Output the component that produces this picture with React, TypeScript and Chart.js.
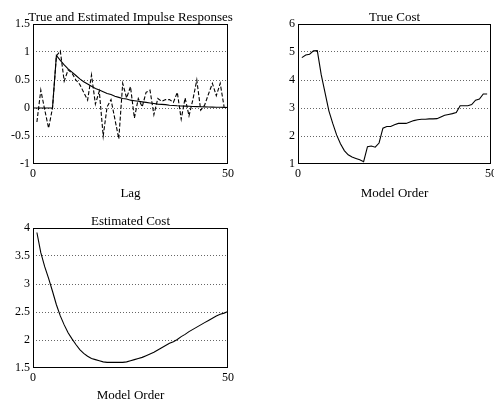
import React, { useEffect, useRef } from "react";
import { Chart, registerables } from "chart.js";

Chart.register(...registerables);

// ---------- data ----------
const trueLags = Array.from({ length: 51 }, (_, i) => i);
const trueImpulse = [
  0, 0, 0, 0, 0, 0, 0.94, 0.85, 0.77, 0.7, 0.64, 0.58, 0.52, 0.47, 0.43, 0.39,
  0.35, 0.32, 0.29, 0.26, 0.24, 0.21, 0.19, 0.17, 0.16, 0.14, 0.13, 0.12, 0.11,
  0.1, 0.09, 0.08, 0.07, 0.065, 0.06, 0.05, 0.045, 0.04, 0.037, 0.033, 0.03,
  0.027, 0.024, 0.022, 0.02, 0.018, 0.016, 0.014, 0.013, 0.012, 0.01,
];

const estLags = Array.from({ length: 49 }, (_, i) => i + 1);
const estImpulse = [
  -0.25, 0.32, -0.03, -0.36, 0.0, 0.93, 1.02, 0.48, 0.68, 0.62, 0.5, 0.42, 0.28,
  0.14, 0.59, 0.07, 0.3, -0.5, 0.02, 0.15, -0.2, -0.55, 0.44, 0.18, 0.38, -0.18,
  0.17, 0.02, 0.28, 0.32, -0.12, 0.17, 0.12, 0.15, 0.15, 0.1, 0.28, -0.2, 0.18,
  -0.14, 0.15, 0.5, -0.04, 0.05, 0.25, 0.44, 0.22, 0.44, 0.02,
];

const trueCostOrders = Array.from({ length: 49 }, (_, i) => i + 1);
const trueCost = [
  4.8, 4.89, 4.92, 5.04, 5.05, 4.2, 3.55, 2.9, 2.45, 2.04, 1.72, 1.48, 1.33,
  1.25, 1.2, 1.15, 1.08, 1.62, 1.64, 1.6, 1.75, 2.28, 2.34, 2.34, 2.4, 2.45,
  2.45, 2.45, 2.5, 2.55, 2.58, 2.6, 2.6, 2.61, 2.61, 2.62, 2.68, 2.74, 2.77,
  2.8, 2.84, 3.08, 3.08, 3.08, 3.12, 3.28, 3.32, 3.5, 3.5,
];

const estCostOrders = Array.from({ length: 50 }, (_, i) => i + 1);
const estCost = [
  3.92, 3.56, 3.31, 3.1, 2.87, 2.63, 2.43, 2.27, 2.13, 2.02, 1.92, 1.83, 1.76,
  1.71, 1.67, 1.65, 1.63, 1.61, 1.6, 1.6, 1.6, 1.6, 1.6, 1.61, 1.63, 1.65,
  1.67, 1.69, 1.72, 1.75, 1.78, 1.82, 1.86, 1.9, 1.94, 1.97, 2.01, 2.06, 2.1,
  2.15, 2.19, 2.23, 2.27, 2.31, 2.35, 2.39, 2.43, 2.46, 2.48, 2.51,
];

const xTicks = [0, 50];
const impulseYTicks = [-1, -0.5, 0, 0.5, 1, 1.5];
const trueCostYTicks = [1, 2, 3, 4, 5, 6];
const estCostYTicks = [1.5, 2, 2.5, 3, 3.5, 4];

const titles = ["True and Estimated Impulse Responses", "True Cost", "Estimated Cost"];
const xLabels = ["Lag", "Model Order", "Model Order"];

// ---------- chart helpers ----------
const FONT = '"Liberation Serif", "Times New Roman", serif';

function pts(xs: number[], ys: number[]) {
  return xs.map((x, i) => ({ x, y: ys[i] }));
}

function framePlugin(title: string, xlabel: string, labelOff: number) {
  return {
    id: "frameText",
    afterDraw(chart: any) {
      const { ctx, chartArea: a } = chart;
      ctx.save();
      ctx.strokeStyle = "#000";
      ctx.lineWidth = 1;
      const l = Math.round(a.left) + 0.5;
      const t = Math.round(a.top) + 0.5;
      const r = Math.round(a.right) - 0.5;
      const b = Math.round(a.bottom) - 0.5;
      ctx.strokeRect(l, t, r - l, b - t);
      ctx.fillStyle = "#000";
      ctx.font = `13px ${FONT}`;
      ctx.textAlign = "center";
      ctx.textBaseline = "alphabetic";
      const cx = (a.left + a.right) / 2;
      ctx.fillText(title, cx, a.top - 3.5);
      ctx.fillText(xlabel, cx, a.bottom + labelOff);
      ctx.restore();
    },
  };
}

function makeConfig(p: {
  datasets: any[];
  yTicks: number[];
  yWidth: number;
  padTop: number;
  padRight: number;
  xHeight: number;
  title: string;
  xlabel: string;
  labelOff: number;
}) {
  const tickFont = { family: FONT, size: 12 };
  const last = p.yTicks.length - 1;
  return {
    type: "line",
    data: { datasets: p.datasets },
    options: {
      animation: false,
      responsive: false,
      devicePixelRatio: 1,
      parsing: true,
      layout: { padding: { top: p.padTop, right: p.padRight, left: 0, bottom: 0 } },
      plugins: { legend: { display: false }, tooltip: { enabled: false }, title: { display: false } },
      elements: { point: { radius: 0 }, line: { tension: 0 } },
      scales: {
        x: {
          type: "linear",
          min: xTicks[0],
          max: xTicks[xTicks.length - 1],
          afterBuildTicks: (s: any) => {
            s.ticks = xTicks.map((v) => ({ value: v }));
          },
          afterFit: (s: any) => {
            s.height = p.xHeight;
            s.paddingLeft = 0;
            s.paddingRight = 0;
          },
          grid: { display: false, drawTicks: false },
          border: { display: false },
          ticks: {
            padding: 3,
            font: tickFont,
            color: "#000",
            maxRotation: 0,
            autoSkip: false,
            callback: (v: any) => String(v),
          },
        },
        y: {
          type: "linear",
          min: p.yTicks[0],
          max: p.yTicks[last],
          afterBuildTicks: (s: any) => {
            s.ticks = p.yTicks.map((v) => ({ value: v }));
          },
          afterFit: (s: any) => {
            s.width = p.yWidth;
            s.paddingTop = 0;
            s.paddingBottom = 0;
          },
          grid: {
            color: (c: any) => (c.index === 0 || c.index === last ? "rgba(0,0,0,0)" : "#666"),
            lineWidth: 1,
            drawTicks: false,
          },
          border: { display: false, dash: [1, 2] },
          ticks: {
            padding: 3,
            font: tickFont,
            color: "#000",
            autoSkip: false,
            callback: (v: any) => String(v),
          },
        },
      },
    },
    plugins: [framePlugin(p.title, p.xlabel, p.labelOff)],
  };
}

function Panel(props: { left: number; top: number; width: number; height: number; config: any }) {
  const ref = useRef<HTMLCanvasElement>(null);
  useEffect(() => {
    const chart = new Chart(ref.current as HTMLCanvasElement, props.config);
    return () => chart.destroy();
  }, []);
  return (
    <div style={{ position: "absolute", left: props.left, top: props.top, width: props.width, height: props.height }}>
      <canvas ref={ref} width={props.width} height={props.height} style={{ width: props.width, height: props.height, display: "block" }} />
    </div>
  );
}

const line = (data: any[], dash?: number[]) => ({
  data,
  borderColor: "#000",
  borderWidth: 1.1,
  pointRadius: 0,
  fill: false,
  tension: 0,
  borderDash: dash || [],
});

export default function App() {
  const cfg1 = makeConfig({
    datasets: [line(pts(trueLags, trueImpulse)), line(pts(estLags, estImpulse), [4, 2])],
    yTicks: impulseYTicks,
    yWidth: 33,
    padTop: 24,
    padRight: 19,
    xHeight: 36,
    title: titles[0],
    xlabel: xLabels[0],
    labelOff: 33,
  });
  const cfg2 = makeConfig({
    datasets: [line(pts(trueCostOrders, trueCost))],
    yTicks: trueCostYTicks,
    yWidth: 48,
    padTop: 24,
    padRight: 3,
    xHeight: 36,
    title: titles[1],
    xlabel: xLabels[1],
    labelOff: 33,
  });
  const cfg3 = makeConfig({
    datasets: [line(pts(estCostOrders, estCost))],
    yTicks: estCostYTicks,
    yWidth: 33,
    padTop: 28,
    padRight: 19,
    xHeight: 36,
    title: titles[2],
    xlabel: xLabels[2],
    labelOff: 31,
  });
  return (
    <div style={{ position: "absolute", left: 0, top: 0, width: 494, height: 404, overflow: "hidden", background: "#fff" }}>
      <Panel left={0} top={0} width={247} height={200} config={cfg1} />
      <Panel left={250} top={0} width={244} height={200} config={cfg2} />
      <Panel left={0} top={200} width={247} height={204} config={cfg3} />
    </div>
  );
}
